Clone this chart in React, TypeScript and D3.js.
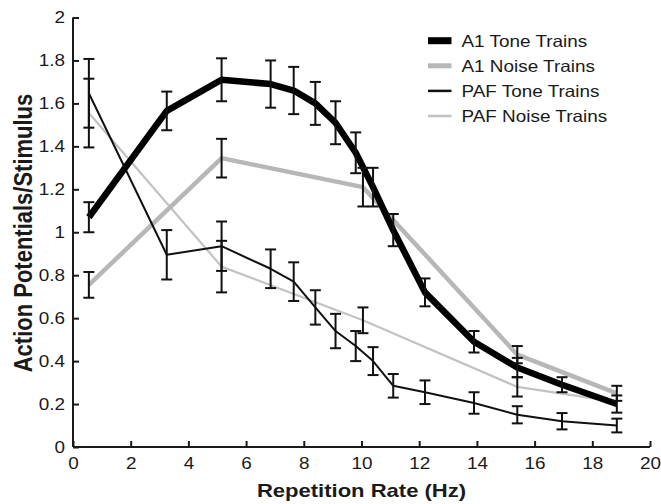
import React, { useEffect, useRef } from "react";
import * as d3 from "d3";

// repetition rates (Hz) at which the trains were presented
const toneRates = [0.55, 3.25, 5.15, 6.85, 7.65, 8.4, 9.1, 9.8, 10.4, 11.1, 12.2, 13.9, 15.4, 16.95, 18.85];
const noiseRates = [0.55, 5.15, 10.05, 15.4, 18.85];

const a1Tone = [1.07, 1.565, 1.71, 1.69, 1.66, 1.6, 1.51, 1.37, 1.21, 1.01, 0.72, 0.49, 0.37, 0.29, 0.2];
const a1ToneErr = [0.07, 0.09, 0.1, 0.11, 0.11, 0.1, 0.1, 0.095, 0.09, 0.075, 0.065, 0.05, 0.045, 0.035, 0.04];

const a1Noise = [0.755, 1.345, 1.21, 0.43, 0.25];
const a1NoiseErr = [0.06, 0.09, 0.09, 0.04, 0.035];

const pafTone = [1.647, 0.895, 0.935, 0.83, 0.77, 0.65, 0.54, 0.47, 0.4, 0.285, 0.255, 0.205, 0.15, 0.12, 0.1];
const pafToneErr = [0.16, 0.115, 0.115, 0.09, 0.09, 0.08, 0.08, 0.07, 0.065, 0.055, 0.055, 0.05, 0.04, 0.038, 0.032];

const pafNoise = [1.555, 0.84, 0.59, 0.28, 0.21];
const pafNoiseErr = [0.16, 0.12, 0.06, 0.045, 0];

const xTicks = [0, 2, 4, 6, 8, 10, 12, 14, 16, 18, 20];
const yTicks = [0, 0.2, 0.4, 0.6, 0.8, 1, 1.2, 1.4, 1.6, 1.8, 2];

const seriesNames = ["A1 Tone Trains", "A1 Noise Trains", "PAF Tone Trains", "PAF Noise Trains"];

// the source figure's lettering is a little wider than Arial
const STRETCH = 1.16;

export default function App() {
  const svgRef = useRef<SVGSVGElement | null>(null);

  useEffect(() => {
    if (!svgRef.current) return;
    const width = 661;
    const height = 504;
    const margin = { top: 17.5, right: 11, bottom: 57, left: 73 };
    const font = "Liberation Sans, Arial, sans-serif";
    const ink = "#1a1a1a";

    const svg = d3.select(svgRef.current);
    svg.selectAll("*").remove();
    svg.attr("width", width).attr("height", height).attr("viewBox", `0 0 ${width} ${height}`);

    const x = d3.scaleLinear().domain([0, 20]).range([margin.left, width - margin.right]);
    const y = d3.scaleLinear().domain([0, 2]).range([height - margin.bottom, margin.top]);

    const series = [
      { name: seriesNames[3], xs: noiseRates, ys: pafNoise, err: pafNoiseErr, color: "#c2c2c2", w: 2.2, lw: 2.5 },
      { name: seriesNames[1], xs: noiseRates, ys: a1Noise, err: a1NoiseErr, color: "#b7b7b7", w: 4.5, lw: 5 },
      { name: seriesNames[2], xs: toneRates, ys: pafTone, err: pafToneErr, color: "#111", w: 2, lw: 2.5 },
      { name: seriesNames[0], xs: toneRates, ys: a1Tone, err: a1ToneErr, color: "#000", w: 6.5, lw: 7 },
    ];

    const line = d3
      .line<[number, number]>()
      .x((d) => x(d[0]))
      .y((d) => y(d[1]));

    series.forEach((s) => {
      svg
        .append("path")
        .datum(s.xs.map((v, i) => [v, s.ys[i]] as [number, number]))
        .attr("fill", "none")
        .attr("stroke", s.color)
        .attr("stroke-width", s.w)
        .attr("stroke-linejoin", "round")
        .attr("d", line);
    });

    // error bars
    const bars = svg.append("g").attr("stroke", "#111").attr("stroke-width", 2).attr("fill", "none");
    series.forEach((s) => {
      s.xs.forEach((v, i) => {
        if (!s.err[i]) return;
        const cx = x(v);
        const y1 = y(s.ys[i] + s.err[i]);
        const y2 = y(s.ys[i] - s.err[i]);
        bars.append("line").attr("x1", cx).attr("x2", cx).attr("y1", y1).attr("y2", y2);
        bars.append("line").attr("x1", cx - 5.5).attr("x2", cx + 5.5).attr("y1", y1).attr("y2", y1);
        bars.append("line").attr("x1", cx - 5.5).attr("x2", cx + 5.5).attr("y1", y2).attr("y2", y2);
      });
    });

    // axes
    const gx = svg
      .append("g")
      .attr("transform", `translate(0,${y(0)})`)
      .call(d3.axisBottom(x).tickValues(xTicks).tickSize(-6).tickPadding(10).tickFormat(d3.format("d")));
    const gy = svg
      .append("g")
      .attr("transform", `translate(${x(0)},0)`)
      .call(d3.axisLeft(y).tickValues(yTicks).tickSize(-6).tickPadding(8).tickFormat((d) => String(d)));

    [gx, gy].forEach((g) => {
      g.select(".domain").attr("stroke", ink).attr("stroke-width", 2);
      g.selectAll(".tick line").attr("stroke", ink).attr("stroke-width", 2);
      g.selectAll<SVGTextElement, unknown>(".tick text")
        .attr("font-family", font)
        .attr("font-size", 16.3)
        .attr("fill", ink)
        .attr("x", function () {
          return +(this.getAttribute("x") || 0) / STRETCH;
        })
        .attr("transform", `scale(${STRETCH},1)`);
    });
    gx.select(".domain").attr("d", `M${x(0)},0H${x(20)}`);
    gy.select(".domain").attr("d", `M0,${y(0)}V${y(2)}`);

    const xMid = (x(0) + x(20)) / 2;
    svg
      .append("text")
      .attr("transform", `translate(${xMid},497) scale(${STRETCH},1)`)
      .attr("text-anchor", "middle")
      .attr("font-family", font)
      .attr("font-weight", "bold")
      .attr("font-size", 19)
      .attr("fill", ink)
      .text("Repetition Rate (Hz)");

    svg
      .append("text")
      .attr("transform", `translate(32,233) scale(${STRETCH},1) rotate(-90)`)
      .attr("text-anchor", "middle")
      .attr("font-family", font)
      .attr("font-weight", "bold")
      .attr("font-size", 22)
      .attr("fill", ink)
      .text("Action Potentials/Stimulus");

    // legend
    const legendItems = [series[3], series[1], series[2], series[0]];
    const lg = svg.append("g").attr("transform", "translate(428,40.7)");
    legendItems.forEach((s, i) => {
      const row = lg.append("g").attr("transform", `translate(0,${i * 25.1})`);
      row
        .append("line")
        .attr("x1", 0)
        .attr("x2", 23.5)
        .attr("stroke", s.color)
        .attr("stroke-width", s.lw);
      row
        .append("text")
        .attr("transform", `translate(33.5,6) scale(${STRETCH},1)`)
        .attr("font-family", font)
        .attr("font-size", 16.3)
        .attr("fill", ink)
        .text(s.name);
    });
  }, []);

  return <svg ref={svgRef} style={{ position: "absolute", left: 0, top: 0 }} />;
}
